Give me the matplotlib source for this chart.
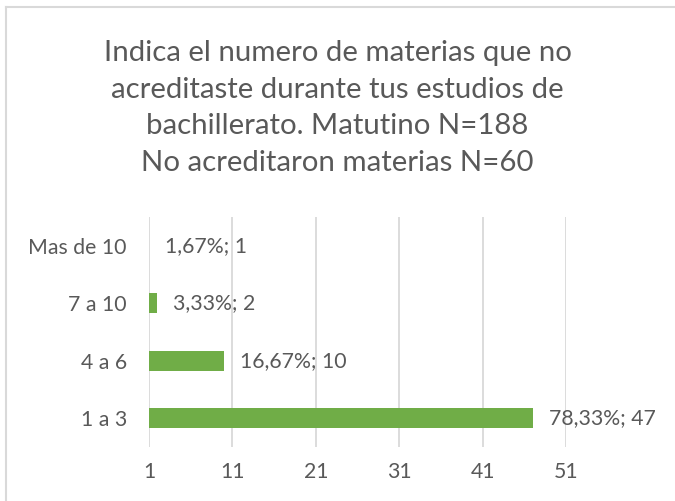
import numpy as np
import matplotlib
matplotlib.use('Agg')
from matplotlib import pyplot as plt
from matplotlib.lines import Line2D

plt.rcParams['font.family'] = ['Lato', 'DejaVu Sans']

# data
categories = ['1 a 3', '4 a 6', '7 a 10', 'Mas de 10']
counts = [47, 10, 2, 1]
total = 60
title = ('Indica el numero de materias que no\n'
         'acreditaste durante tus estudios de\n'
         'bachillerato. Matutino N=188\n'
         'No acreditaron materias N=60')
xticks = [1, 11, 21, 31, 41, 51]

txt_color = '#595959'
bar_color = '#70AD47'
grid_color = '#D9D9D9'

fig = plt.figure(figsize=(6.75, 5.01), dpi=100)
ax = fig.add_axes([149/675, 1 - 447/501, (566 - 149)/675, (447 - 217)/501])

# bars start at the axis minimum (1), as in the source chart
base = 1
y = np.arange(len(categories))
widths = [c - base for c in counts]
ax.barh(y, widths, left=base, height=0.34, color=bar_color, zorder=3)

for yi, c, w in zip(y, counts, widths):
    pct = f'{100 * c / total:.2f}'.replace('.', ',')
    ax.annotate(f'{pct}%; {c}', xy=(base + w, yi), xytext=(16, 0),
                textcoords='offset pixels',
                va='center', ha='left', fontsize=15.3, color=txt_color,
                annotation_clip=False, zorder=4)

ax.set_xlim(1, 51)
ax.set_ylim(-0.5, len(categories) - 0.5)
ax.set_xticks(xticks)
ax.set_yticks(y)
ax.set_yticklabels(categories)
ax.xaxis.grid(True, color=grid_color, linewidth=1.3, zorder=0)
ax.set_axisbelow(True)
for s in ax.spines.values():
    s.set_visible(False)
ax.tick_params(axis='both', length=0, labelsize=15.3, labelcolor=txt_color)
ax.tick_params(axis='x', pad=11)
ax.tick_params(axis='y', pad=16)

fig.text(0.5, 1 - 108/501, title, ha='center', va='center', fontsize=21.2,
         color=txt_color, linespacing=1.5)

# chart-area border (only top and left edges visible in the crop)
fig.add_artist(Line2D([6/675, 6/675], [0, 1 - 7/501], color='#D9D9D9',
                      lw=1.5, transform=fig.transFigure))
fig.add_artist(Line2D([6/675, 1], [1 - 7/501, 1 - 7/501], color='#D9D9D9',
                      lw=1.5, transform=fig.transFigure))

plt.savefig('out.png', dpi=100)
